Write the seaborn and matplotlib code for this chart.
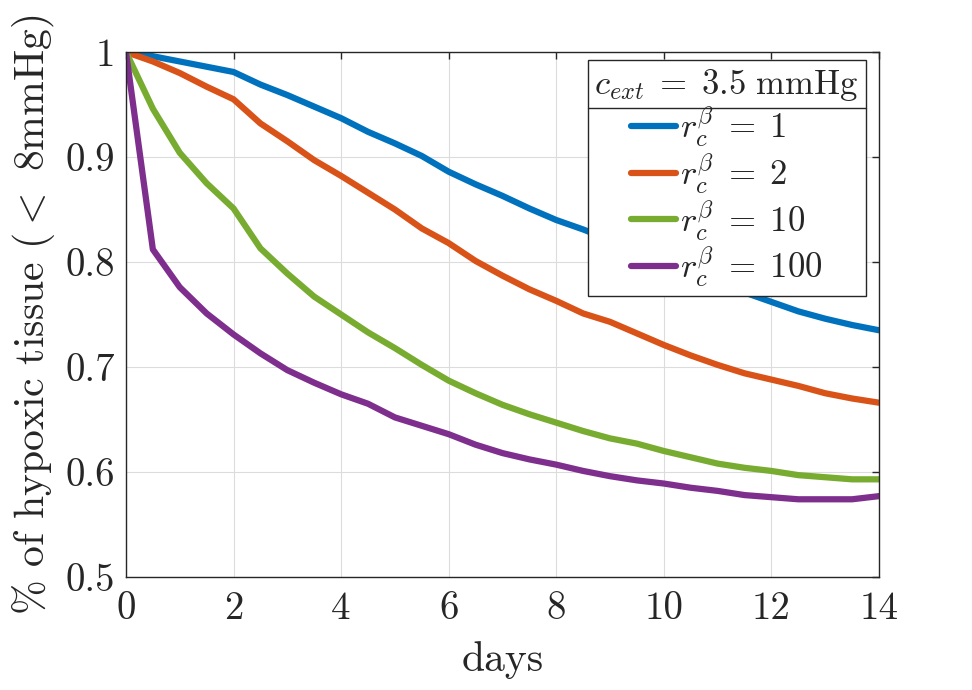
import numpy as np
import pandas as pd
import matplotlib
matplotlib.use("Agg")
import matplotlib.pyplot as plt
from matplotlib.lines import Line2D
import seaborn as sns

# days sampled every half day
days = [0, 0.5, 1, 1.5, 2, 2.5, 3, 3.5, 4, 4.5, 5, 5.5, 6, 6.5, 7,
        7.5, 8, 8.5, 9, 9.5, 10, 10.5, 11, 11.5, 12, 12.5, 13, 13.5, 14]

# fraction of hypoxic tissue for each r_c^beta
r1 = [1.0, 0.996, 0.991, 0.986, 0.981, 0.969, 0.959, 0.948, 0.937, 0.924,
      0.913, 0.901, 0.886, 0.874, 0.863, 0.851, 0.840, 0.831, 0.821, 0.811,
      0.801, 0.791, 0.781, 0.771, 0.762, 0.753, 0.746, 0.740, 0.735]
r2 = [1.0, 0.991, 0.980, 0.967, 0.955, 0.932, 0.915, 0.897, 0.882, 0.866,
      0.850, 0.832, 0.818, 0.801, 0.787, 0.774, 0.763, 0.751, 0.743, 0.732,
      0.721, 0.711, 0.702, 0.694, 0.688, 0.682, 0.675, 0.670, 0.666]
r10 = [1.0, 0.946, 0.904, 0.875, 0.851, 0.813, 0.789, 0.767, 0.750, 0.733,
       0.718, 0.702, 0.687, 0.675, 0.664, 0.655, 0.647, 0.639, 0.632, 0.627,
       0.620, 0.614, 0.608, 0.604, 0.601, 0.597, 0.595, 0.593, 0.593]
r100 = [1.0, 0.812, 0.776, 0.751, 0.731, 0.713, 0.697, 0.685, 0.674, 0.665,
        0.652, 0.644, 0.636, 0.626, 0.618, 0.612, 0.607, 0.601, 0.596, 0.592,
        0.589, 0.585, 0.582, 0.578, 0.576, 0.574, 0.574, 0.574, 0.577]

series_labels = [r'$r_c^\beta \;=\; 1$', r'$r_c^\beta \;=\; 2$',
                 r'$r_c^\beta \;=\; 10$', r'$r_c^\beta \;=\; 100$']
colors = ['#0072BD', '#D95319', '#77AC30', '#7E2F8E']

xticks = [0, 2, 4, 6, 8, 10, 12, 14]
yticks = [0.5, 0.6, 0.7, 0.8, 0.9, 1.0]
ytick_labels = ['0.5', '0.6', '0.7', '0.8', '0.9', '1']

legend_title = r'$c_{ext} \;=\; 3.5\ \mathrm{mmHg}$'
xlabel = 'days'
ylabel = r'% of hypoxic tissue ($<$ 8mmHg)'

# long form table for seaborn
df = pd.DataFrame({
    'days': days * 4,
    'frac': r1 + r2 + r10 + r100,
    'case': [series_labels[0]] * len(days) + [series_labels[1]] * len(days)
            + [series_labels[2]] * len(days) + [series_labels[3]] * len(days),
})

sns.set_style('white')
plt.rcParams['font.family'] = 'serif'
plt.rcParams['font.serif'] = ['cmr10']
plt.rcParams['mathtext.fontset'] = 'cm'
plt.rcParams['axes.formatter.use_mathtext'] = True
plt.rcParams['axes.unicode_minus'] = False

fig = plt.figure(figsize=(9.72, 6.9), dpi=100)
ax = fig.add_axes([0.1296, 0.1638, 0.7747, 0.7608])

sns.lineplot(data=df, x='days', y='frac', hue='case', hue_order=series_labels,
             palette=colors, linewidth=4.5, ax=ax, legend=False)

ax.set_xlim(0, 14)
ax.set_ylim(0.5, 1.0)
ax.set_xticks(xticks)
ax.set_xticklabels([str(t) for t in xticks])
ax.set_yticks(yticks)
ax.set_yticklabels(ytick_labels)
ax.grid(True, color='#dcdcdc', linewidth=0.8)
ax.set_axisbelow(True)
for s in ax.spines.values():
    s.set_color('#262626')
    s.set_linewidth(1.0)
ax.tick_params(axis='both', direction='in', length=5, width=1.0,
               color='#262626', labelsize=28, labelcolor='#262626',
               top=True, right=True)
ax.tick_params(axis='x', pad=10)
ax.tick_params(axis='y', pad=8)
ax.set_xlabel(xlabel, fontsize=30, color='#262626', labelpad=10)
ax.set_ylabel(ylabel, fontsize=30, color='#262626', labelpad=6)

handles = [Line2D([0], [0], color=c, lw=4.5) for c in colors]
leg = ax.legend(handles, series_labels, title=legend_title, loc='upper right',
                bbox_to_anchor=(0.9827, 0.985), borderaxespad=0,
                fontsize=25, title_fontsize=25, fancybox=False,
                edgecolor='#262626', framealpha=1, handlelength=1.3,
                handletextpad=0.1, labelspacing=0.1, borderpad=0.2)
leg.get_frame().set_linewidth(1.0)

# separator under the legend title, like MATLAB
fig.canvas.draw()
fb = leg.get_frame().get_window_extent()
tb = leg.get_title().get_window_extent()
W, H = fig.canvas.get_width_height()
ysep = (tb.y0 - 5) / H
fig.add_artist(Line2D([fb.x0 / W, fb.x1 / W], [ysep, ysep],
                      color='#262626', lw=1.0))

fig.savefig('out.png', dpi=100)
